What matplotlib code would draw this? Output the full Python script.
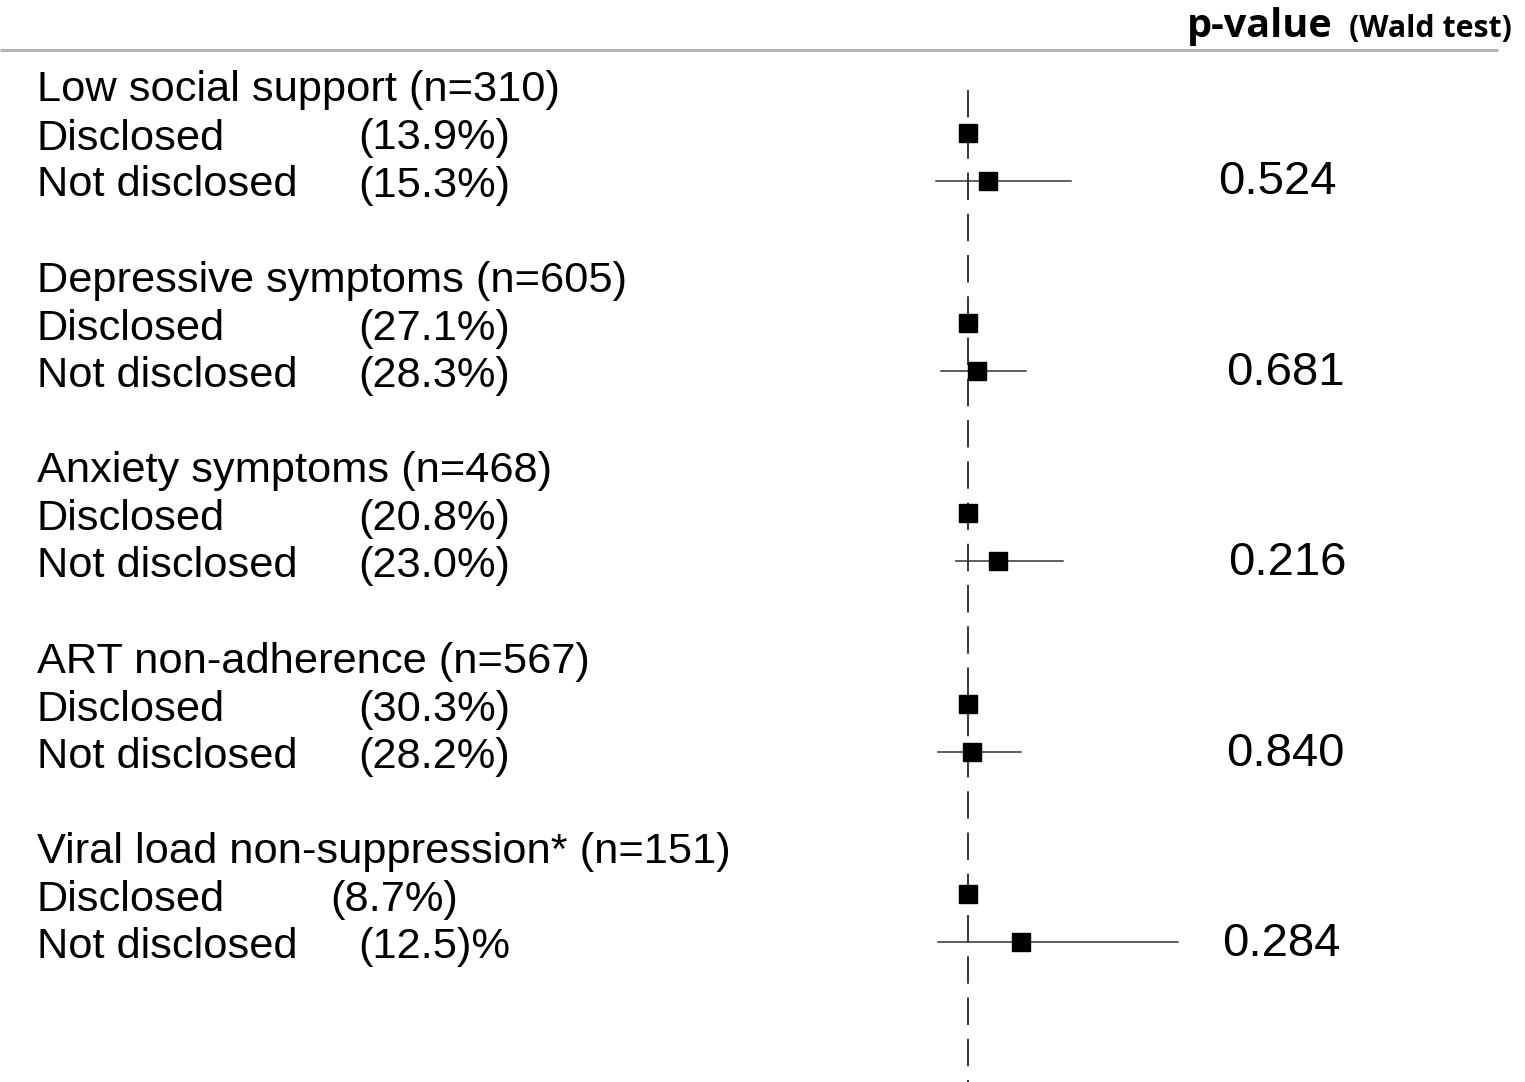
import matplotlib.pyplot as plt
from matplotlib.transforms import blended_transform_factory

# outcome groups
groups = ['Low social support (n=310)', 'Depressive symptoms (n=605)',
          'Anxiety symptoms (n=468)', 'ART non-adherence (n=567)',
          'Viral load non-suppression* (n=151)']
pct_disclosed = ['(13.9%)', '(27.1%)', '(20.8%)', '(30.3%)', '(8.7%)']
pct_not_disclosed = ['(15.3%)', '(28.3%)', '(23.0%)', '(28.2%)', '(12.5)%']
# ratio for "not disclosed" vs disclosed (reference = 1)
est = [1.08, 1.036, 1.12, 1.016, 1.21]
ci_low = [0.87, 0.89, 0.95, 0.88, 0.88]
ci_high = [1.41, 1.23, 1.38, 1.21, 1.84]
pvals = ['0.524', '0.681', '0.216', '0.840', '0.284']

W, H = 1525, 1082
px_per_unit = 250.0
ref_px = 968

fig = plt.figure(figsize=(W / 100, H / 100), dpi=100)
ax = fig.add_axes([0, 0, 1, 1])
ax.set_xlim(1 - ref_px / px_per_unit, 1 + (W - ref_px) / px_per_unit)
ax.set_ylim(H, 0)
ax.axis('off')

font = 'Liberation Sans'
fs = 31.2
fs_p = 34

# header
ax.plot([0, 1498 / W], [50, 50], transform=blended_transform_factory(ax.transAxes, ax.transData),
        color='#b4b4b4', lw=2.2, solid_capstyle='butt')
fig.text(1187 / W, 1 - 37 / H, 'p-value', fontsize=28.5, fontweight='bold',
         family='Open Sans', ha='left', va='baseline')
fig.text(1512 / W, 1 - 37 / H, '(Wald test)', fontsize=21.8, fontweight='bold',
         family='Open Sans', ha='right', va='baseline')

# reference line
ax.plot([1, 1], [90, H], color='black', lw=1.1, dashes=(18, 9))

row_gap = 190.4
pct_x = [358, 358, 358, 358, 330]
pval_x = [1218, 1226, 1228, 1226, 1222]
for i, g in enumerate(groups):
    y0 = 90.5 + i * row_gap
    y_d = y0 + 48
    y_n = y0 + 95
    fig.text(37 / W, 1 - y0 / H, g, fontsize=fs, family=font, va='center')
    fig.text(37 / W, 1 - y_d / H, 'Disclosed', fontsize=fs, family=font, va='center')
    fig.text(37 / W, 1 - y_n / H, 'Not disclosed', fontsize=fs, family=font, va='center')
    fig.text(pct_x[i] / W, 1 - y_d / H, pct_disclosed[i], fontsize=fs, family=font, va='center')
    fig.text(358 / W, 1 - y_n / H, pct_not_disclosed[i], fontsize=fs, family=font, va='center')
    fig.text(pval_x[i] / W, 1 - (y_n - 3) / H, pvals[i], fontsize=fs_p, family=font, va='center')

    # disclosed = reference
    ax.plot([1], [y_d - 6], marker='s', ms=12.5, color='black', mec='black')
    # not disclosed
    ax.plot([ci_low[i], ci_high[i]], [y_n - 5, y_n - 5], color='#333333', lw=1.1)
    ax.plot([est[i]], [y_n - 5], marker='s', ms=12.5, color='black', mec='black')

fig.savefig('out.png', dpi=100)
